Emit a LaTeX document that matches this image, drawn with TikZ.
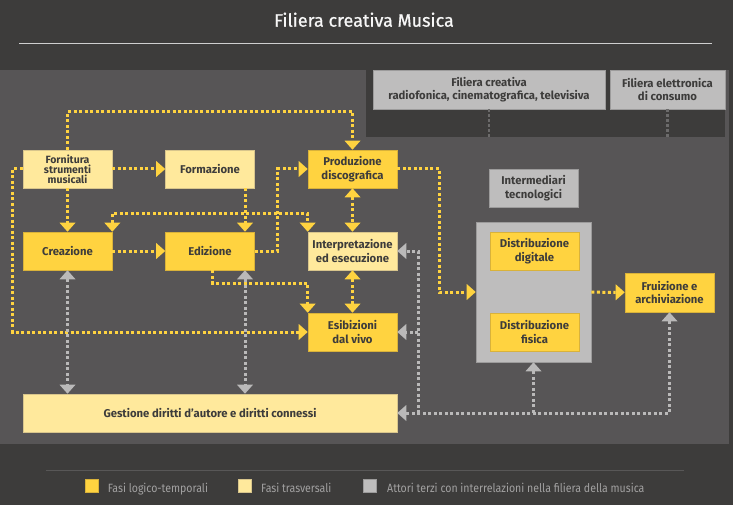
\documentclass[tikz,border=0pt]{standalone}
\usepackage{fontspec}
\setmainfont{Fira Sans}
\newfontfamily\legfont[FakeStretch=0.88]{Fira Sans}
\newfontfamily\titlefont[FakeBold=0.8]{Fira Sans}
\usetikzlibrary{arrows.meta,calc}
\definecolor{bgc}{HTML}{3D3C3B}
\definecolor{panel}{HTML}{575556}
\definecolor{yel}{HTML}{FFD340}
\definecolor{ylborder}{HTML}{D9B23A}
\definecolor{lyel}{HTML}{FFE99C}
\definecolor{lyborder}{HTML}{D8C58C}
\definecolor{gbox}{HTML}{BEBDBD}
\definecolor{gborder}{HTML}{9C9B9B}
\definecolor{gline}{HTML}{BAB9B9}
\definecolor{dkline}{HTML}{6C6B6B}
\definecolor{txt}{HTML}{3D3C3B}
\definecolor{titlec}{HTML}{F7F7F7}
\definecolor{tline}{HTML}{CFCFCF}
\definecolor{legline}{HTML}{585757}
\definecolor{legtxt}{HTML}{A2A1A1}
\tikzset{
  ET/.tip={Triangle[width=16pt,length=9pt,line width=0pt]},
  box/.style={draw=ylborder, line width=0.6pt, minimum width=89pt, minimum height=38pt,
    inner sep=0pt, align=center, text=txt, font=\bfseries\fontsize{11.3}{13.6}\selectfont},
  yb/.style={box, fill=yel, draw=ylborder},
  lb/.style={box, fill=lyel, draw=lyborder},
  gb/.style={box, fill=gbox, draw=gborder},
  yl/.style={draw=yel, line width=3pt, dash pattern=on 3pt off 2.5pt},
  gl/.style={draw=gline, line width=3pt, dash pattern=on 3pt off 2.5pt},
  dl/.style={draw=dkline, line width=2.5pt, dash pattern=on 2.5pt off 2.5pt},
  legsq/.style={minimum size=13pt, inner sep=0pt, line width=0.5pt},
  legtext/.style={anchor=base west, text=legtxt, inner sep=0pt, font=\legfont\fontsize{12}{14}\selectfont}
}
\begin{document}
\begin{tikzpicture}[x=1pt,y=-1pt]
\useasboundingbox (0,0) rectangle (733,505);
\fill[bgc] (0,0) rectangle (733,505);
\fill[panel] (0,70) rectangle (729,444);
\fill[bgc] (366,70) rectangle (725,137);

% title
\node[anchor=base, text=titlec, inner sep=0pt, font=\titlefont\fontsize{18}{20}\selectfont] (title) at (364,26.7) {Filiera creativa Musica};
\draw[tline, line width=1pt] (19,43.3) -- (712,43.3);

% nodes
\node[lb, font=\bfseries\fontsize{10.5}{10}\selectfont] (forn) at (67.5,169) {Fornitura\\strumenti\\musicali};
\node[lb] (form) at (210,169) {Formazione};
\node[yb] (prod) at (352.5,169) {Produzione\\discografica};
\node[yb] (crea) at (67.5,251) {Creazione};
\node[yb] (ediz) at (210,251) {Edizione};
\node[lb] (interp) at (352.5,251) {Interpretazione\\ed esecuzione};
\node[yb] (esib) at (352.5,332) {Esibizioni\\dal vivo};
\node[lb, minimum width=374pt] (gest) at (210,413) {Gestione diritti d’autore e diritti connessi};
\node[gb, minimum width=232pt, minimum height=39pt] (filcr) at (489,89.5) {Filiera creativa\\radiofonica, cinematografica, televisiva};
\node[gb, minimum width=115pt, minimum height=39pt] (filel) at (667.5,89.5) {Filiera elettronica\\di consumo};
\node[gb] (interm) at (533.5,188) {Intermediari\\tecnologici};
\node[gb, minimum width=115pt, minimum height=140pt] (cont) at (533.5,292) {};
\node[yb] (distdig) at (534.5,251) {Distribuzione\\digitale};
\node[yb] (distfis) at (534.5,332) {Distribuzione\\fisica};
\node[yb, minimum height=39pt] (fruiz) at (669.5,292.5) {Fruizione e\\archiviazione};

% dark dotted links from upper boxes
\draw[dl] (filcr.south) -- ++(0,28);
\draw[dl] (filel.south) -- ++(0,28);

% yellow connectors
\draw[yl,-ET] (forn.north) -- ++(0,-38) -| (prod.north);
\draw[yl,-ET] (forn) -- (form);
\draw[yl,-ET] (forn) -- (crea);
\draw[yl,-ET] (forn.west) -- ++(-10,0) |- (esib.west);
\draw[yl,-ET] ([xshift=35pt]form.south) -- ([xshift=35pt]ediz.north);
\draw[yl,-ET] (crea) -- (ediz);
\draw[yl,-ET] (ediz.east) -- ++(23,0) |- (prod.west);
\draw[yl,ET-ET] (crea.north east) -- ++(0,-18) -| (interp.north west);
\draw[yl,ET-ET] (prod.south) -- (interp.north);
\draw[yl,ET-ET] (interp.south) -- (esib.north);
\draw[yl,-ET] ([xshift=2.5pt]ediz.south) -- ++(0,13) -| (esib.north west);
\draw[yl,-ET] (prod.east) -- ++(42,0) |- (cont.west);
\draw[yl,-ET] (cont) -- (fruiz);

% gray connectors
\draw[gl,ET-ET] (crea.south) -- (crea.south |- gest.north);
\draw[gl,ET-ET] ([xshift=35pt]ediz.south) -- ([xshift=35pt]ediz.south |- gest.north);
\draw[gl,ET-ET] (fruiz.south) -- (fruiz.south |- gest.east) -- (gest.east);
\draw[gl,ET-] (cont.south) -- (cont.south |- gest.east);
\coordinate (bus) at ($(gest.east)+(21,0)$);
\draw[gl,-ET] (bus) -- (bus |- interp.east) -- (interp.east);
\draw[gl,-ET] (bus |- esib.east) -- (esib.east);

% legend
\draw[legline, line width=1pt] (46,470.7) -- (684,470.7);
\node[legsq, fill=yel, draw=ylborder] (lg1) at (91.7,485.8) {};
\node[legtext] (lt1) at (107.7,492.2) {Fasi logico-temporali};
\node[legsq, fill=lyel, draw=lyborder] (lg2) at (244.7,485.8) {};
\node[legtext] (lt2) at (261,492.2) {Fasi trasversali};
\node[legsq, fill=gbox, draw=gborder] (lg3) at (369.7,485.8) {};
\node[legtext] (lt3) at (387,492.2) {Attori terzi con interrelazioni nella filiera della musica};
\end{tikzpicture}
\end{document}
